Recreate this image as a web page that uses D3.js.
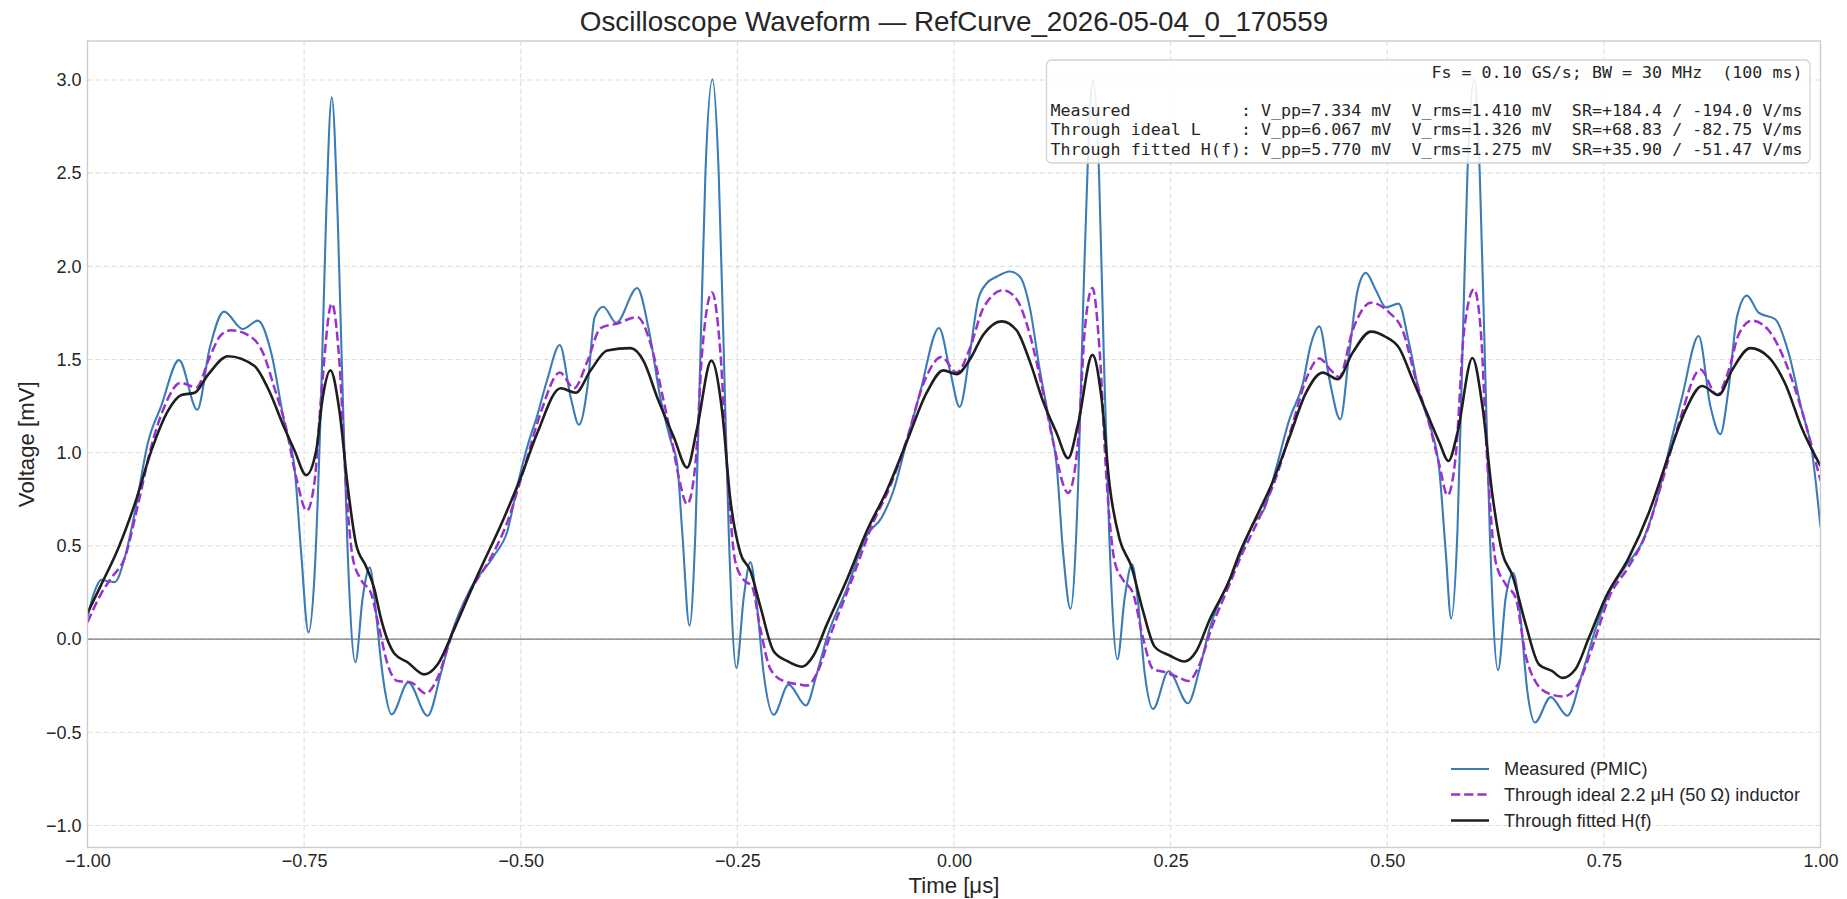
<!DOCTYPE html>
<html><head><meta charset="utf-8">
<script src="https://cdn.jsdelivr.net/npm/d3@7"></script>
<style>
body{margin:0;background:#fff;}
svg{display:block;}
text{font-family:"Liberation Sans",Arial,Helvetica,sans-serif;fill:#262626;}
.mono{font-family:"DejaVu Sans Mono",monospace;white-space:pre;}
</style>
</head><body>
<svg id="chart" width="1847" height="899"></svg>
<script>
// ---------- data ----------
const measT = [-1.000,-0.993,-0.984,-0.9755,-0.9685,-0.957,-0.9455,-0.930,-0.915,-0.8944,-0.8733,-0.859,-0.8425,-0.8207,-0.8034,-0.788,-0.7726,-0.761,-0.7534,-0.745,-0.738,-0.7304,-0.7247,-0.7181,-0.7112,-0.7054,-0.6997,-0.6908,-0.6824,-0.6743,-0.667,-0.6613,-0.6574,-0.649,-0.6298,-0.6075,-0.5922,-0.5806,-0.558,-0.5307,-0.5154,-0.504,-0.4923,-0.481,-0.4693,-0.455,-0.4424,-0.4328,-0.4232,-0.4147,-0.4048,-0.3898,-0.3656,-0.3521,-0.3387,-0.3272,-0.3195,-0.3137,-0.3053,-0.2984,-0.2926,-0.2869,-0.2788,-0.2715,-0.2657,-0.26,-0.2511,-0.2427,-0.235,-0.2273,-0.2197,-0.2081,-0.1909,-0.1709,-0.1582,-0.1467,-0.1237,-0.1006,-0.0834,-0.0699,-0.0546,-0.0392,-0.0173,-0.0046,0.0065,0.0184,0.028,0.0376,0.0492,0.0645,0.0761,0.0876,0.0991,0.1106,0.1183,0.126,0.1344,0.1432,0.149,0.1548,0.1605,0.1674,0.1728,0.179,0.1886,0.197,0.2055,0.2124,0.2201,0.2297,0.2477,0.27,0.2834,0.2949,0.318,0.3295,0.3448,0.3583,0.3717,0.3871,0.4025,0.412,0.4217,0.4332,0.4458,0.4562,0.4658,0.4754,0.4869,0.4985,0.513,0.5253,0.5369,0.5503,0.5599,0.5676,0.5737,0.581,0.5868,0.5925,0.6002,0.6068,0.6125,0.6183,0.6279,0.6367,0.6455,0.654,0.6617,0.6705,0.6886,0.7078,0.725,0.7404,0.7558,0.775,0.7942,0.8095,0.8249,0.8402,0.8594,0.8729,0.8844,0.894,0.9036,0.915,0.9285,0.9478,0.9631,0.9785,0.99,1.0];
const measV = [0.12,0.24,0.318,0.31,0.306,0.437,0.677,1.059,1.25,1.497,1.231,1.561,1.757,1.664,1.709,1.537,1.155,0.916,0.461,0.036,0.342,1.298,2.254,2.907,2.254,1.298,0.461,-0.124,0.222,0.385,0.14,-0.12,-0.256,-0.404,-0.232,-0.411,-0.184,0.019,0.27,0.449,0.58,0.82,1.035,1.2,1.394,1.578,1.298,1.15,1.346,1.728,1.783,1.697,1.884,1.657,1.29,1.07,0.94,0.58,0.072,0.58,1.537,2.493,3.003,2.493,1.537,0.58,-0.155,0.222,0.414,0.175,-0.184,-0.406,-0.244,-0.356,-0.184,0.007,0.27,0.557,0.653,0.796,1.059,1.322,1.669,1.44,1.246,1.537,1.824,1.908,1.944,1.972,1.944,1.776,1.441,1.155,0.94,0.461,0.163,0.82,1.776,2.613,3.0,2.493,1.537,0.58,-0.108,0.222,0.402,0.198,-0.184,-0.375,-0.172,-0.344,-0.16,0.055,0.318,0.44,0.617,0.70,0.916,1.179,1.37,1.585,1.678,1.394,1.179,1.537,1.872,1.965,1.872,1.78,1.80,1.585,1.322,1.131,0.916,0.461,0.11,0.58,1.537,2.493,3.003,2.493,1.537,0.58,-0.167,0.222,0.354,0.103,-0.28,-0.447,-0.311,-0.411,-0.184,0.055,0.246,0.39,0.521,0.724,1.011,1.298,1.626,1.25,1.10,1.346,1.728,1.843,1.752,1.716,1.537,1.226,1.011,0.6];

const idealT = [-1.0,-0.984,-0.9723,-0.957,-0.9416,-0.9263,-0.911,-0.8925,-0.8744,-0.859,-0.8456,-0.8341,-0.8111,-0.7976,-0.7842,-0.7707,-0.7592,-0.7469,-0.738,-0.7304,-0.7181,-0.7093,-0.7016,-0.6939,-0.6843,-0.6728,-0.6632,-0.6536,-0.6421,-0.6267,-0.6095,-0.596,-0.5806,-0.558,-0.5345,-0.5154,-0.4962,-0.477,-0.455,-0.4385,-0.4232,-0.4078,-0.3886,-0.3656,-0.3502,-0.3349,-0.3272,-0.3176,-0.308,-0.2984,-0.2907,-0.2792,-0.2696,-0.2619,-0.2523,-0.2427,-0.2331,-0.2235,-0.212,-0.1966,-0.1774,-0.1697,-0.1582,-0.1429,-0.1198,-0.0929,-0.0737,-0.0545,-0.0353,-0.0142,0.0031,0.0184,0.0338,0.0568,0.0722,0.0876,0.1029,0.1144,0.1317,0.1432,0.1509,0.1598,0.1682,0.1759,0.1855,0.1951,0.2066,0.2181,0.2297,0.245,0.2604,0.27,0.2834,0.2969,0.318,0.3295,0.3525,0.3717,0.3909,0.4063,0.4217,0.4351,0.4447,0.4601,0.4812,0.5023,0.5177,0.533,0.5484,0.5599,0.5695,0.5791,0.5887,0.6002,0.6079,0.6156,0.6252,0.6367,0.6482,0.6598,0.6713,0.6866,0.7039,0.7212,0.7385,0.7558,0.7788,0.798,0.8172,0.8364,0.8614,0.8806,0.894,0.9055,0.9209,0.9401,0.9593,0.9785,1.0];
const idealV = [0.09,0.246,0.33,0.437,0.724,1.035,1.25,1.375,1.351,1.513,1.633,1.657,1.621,1.537,1.346,1.131,0.868,0.689,0.844,1.298,1.80,1.489,0.82,0.437,0.318,0.246,0.055,-0.136,-0.225,-0.232,-0.292,-0.208,0.007,0.258,0.437,0.629,0.916,1.214,1.43,1.346,1.489,1.669,1.693,1.728,1.585,1.274,1.107,0.868,0.724,0.94,1.537,1.86,1.537,0.916,0.414,0.318,0.282,0.055,-0.16,-0.225,-0.244,-0.249,-0.184,0.019,0.294,0.629,0.82,1.071,1.37,1.513,1.43,1.561,1.776,1.872,1.824,1.633,1.322,1.059,0.784,1.059,1.657,1.884,1.537,0.868,0.414,0.318,0.246,0.007,-0.16,-0.179,-0.208,-0.225,-0.136,0.055,0.294,0.426,0.653,0.868,1.155,1.394,1.506,1.442,1.406,1.657,1.805,1.752,1.657,1.394,1.155,0.94,0.772,0.987,1.657,1.877,1.657,0.94,0.414,0.294,0.222,-0.088,-0.23,-0.292,-0.308,-0.232,-0.017,0.222,0.39,0.557,0.844,1.155,1.446,1.31,1.442,1.633,1.709,1.657,1.489,1.226,0.85];

const fitT = [-1.0,-0.984,-0.9647,-0.9455,-0.9263,-0.907,-0.8917,-0.8763,-0.861,-0.8379,-0.8072,-0.7918,-0.7726,-0.761,-0.7477,-0.7361,-0.7285,-0.7197,-0.7093,-0.6997,-0.69,-0.6785,-0.669,-0.6613,-0.6459,-0.6306,-0.6114,-0.596,-0.5768,-0.5499,-0.5191,-0.4999,-0.4808,-0.4539,-0.4366,-0.4193,-0.4002,-0.3733,-0.3579,-0.3426,-0.3233,-0.308,-0.2965,-0.28,-0.2677,-0.2581,-0.2465,-0.235,-0.2235,-0.2081,-0.1928,-0.1755,-0.1621,-0.1467,-0.1237,-0.1006,-0.0776,-0.0545,-0.0315,-0.0123,0.0031,0.0184,0.0338,0.0549,0.0722,0.0876,0.1029,0.1183,0.1317,0.1432,0.1598,0.1701,0.1797,0.1913,0.2047,0.2181,0.2316,0.2489,0.2661,0.2796,0.2949,0.318,0.3295,0.3487,0.3679,0.3871,0.4063,0.4255,0.4428,0.4601,0.4812,0.4985,0.5138,0.5292,0.5446,0.5599,0.5707,0.581,0.5983,0.6098,0.6214,0.6329,0.6444,0.6598,0.6751,0.6905,0.702,0.7174,0.7327,0.7519,0.7788,0.8018,0.8249,0.8441,0.8633,0.8825,0.8978,0.919,0.9401,0.9593,0.9785,1.0];
const fitV = [0.139,0.294,0.485,0.724,1.011,1.226,1.31,1.322,1.418,1.518,1.465,1.346,1.131,1.011,0.88,1.011,1.298,1.442,1.226,0.82,0.509,0.39,0.27,0.11,-0.077,-0.124,-0.189,-0.136,0.055,0.342,0.653,0.868,1.107,1.346,1.322,1.442,1.549,1.561,1.489,1.298,1.083,0.92,1.131,1.494,1.226,0.748,0.461,0.366,0.175,-0.065,-0.117,-0.148,-0.088,0.079,0.318,0.58,0.796,1.059,1.322,1.442,1.422,1.501,1.633,1.705,1.657,1.489,1.274,1.107,0.971,1.155,1.525,1.298,0.82,0.533,0.39,0.151,-0.041,-0.088,-0.12,-0.065,0.103,0.318,0.461,0.653,0.844,1.083,1.322,1.43,1.394,1.537,1.65,1.621,1.561,1.394,1.226,1.059,0.956,1.107,1.508,1.25,0.772,0.461,0.342,0.079,-0.136,-0.172,-0.208,-0.16,0.007,0.222,0.437,0.677,0.987,1.226,1.358,1.31,1.442,1.561,1.513,1.37,1.131,0.93];

const xTicks = [-1, -0.75, -0.5, -0.25, 0, 0.25, 0.5, 0.75, 1];
const xTickLabels = ["\u22121.00","\u22120.75","\u22120.50","\u22120.25","0.00","0.25","0.50","0.75","1.00"];
const yTicks = [-1, -0.5, 0, 0.5, 1, 1.5, 2, 2.5, 3];
const yTickLabels = ["\u22121.0","\u22120.5","0.0","0.5","1.0","1.5","2.0","2.5","3.0"];
const seriesNames = ["Measured (PMIC)", "Through ideal 2.2 \u03bcH (50 \u03a9) inductor", "Through fitted H(f)"];
const titleText = "Oscilloscope Waveform \u2014 RefCurve_2026-05-04_0_170559";
const xLabel = "Time [\u03bcs]";
const yLabel = "Voltage [mV]";
const infoLines = [
  "Fs = 0.10 GS/s; BW = 30 MHz  (100 ms)",
  "",
  "Measured           : V_pp=7.334 mV  V_rms=1.410 mV  SR=+184.4 / -194.0 V/ms",
  "Through ideal L    : V_pp=6.067 mV  V_rms=1.326 mV  SR=+68.83 / -82.75 V/ms",
  "Through fitted H(f): V_pp=5.770 mV  V_rms=1.275 mV  SR=+35.90 / -51.47 V/ms"
];

// ---------- layout ----------
const L = 87.5, R = 1820.5, T = 41, B = 847.5;
const svg = d3.select("#chart");
const x = d3.scaleLinear().domain([-1, 1]).range([L, R]);
const y = d3.scaleLinear().domain([-1.118, 3.209]).range([B, T]);

// grid
const g = svg.append("g");
g.selectAll(".gx").data(xTicks.slice(1, -1)).enter().append("line")
  .attr("x1", d => x(d)).attr("x2", d => x(d)).attr("y1", T).attr("y2", B)
  .attr("stroke", "#dedede").attr("stroke-width", 1.1).attr("stroke-dasharray", "5,3");
g.selectAll(".gy").data(yTicks).enter().append("line")
  .attr("x1", L).attr("x2", R).attr("y1", d => y(d)).attr("y2", d => y(d))
  .attr("stroke", "#dedede").attr("stroke-width", 1.1).attr("stroke-dasharray", "5,3");

// zero line
svg.append("line").attr("x1", L).attr("x2", R).attr("y1", y(0)).attr("y2", y(0))
  .attr("stroke", "#7a7a7a").attr("stroke-width", 1.2);

// clip
svg.append("clipPath").attr("id", "clip").append("rect")
  .attr("x", L).attr("y", T).attr("width", R - L).attr("height", B - T);

const line = d3.line().x(d => x(d[0])).y(d => y(d[1])).curve(d3.curveMonotoneX);
const series = [
  {t: measT, v: measV, color: "#3a7cb6", w: 2.1, dash: null},
  {t: idealT, v: idealV, color: "#9b30d0", w: 2.5, dash: "9.2,4"},
  {t: fitT, v: fitV, color: "#1e1e1e", w: 2.6, dash: null}
];
const pg = svg.append("g").attr("clip-path", "url(#clip)");
series.forEach(s => {
  const pts = s.t.map((t, i) => [t, s.v[i]]);
  pg.append("path").attr("d", line(pts)).attr("fill", "none")
    .attr("stroke", s.color).attr("stroke-width", s.w)
    .attr("stroke-dasharray", s.dash).attr("stroke-linejoin", "round");
});

// frame
svg.append("rect").attr("x", L).attr("y", T).attr("width", R - L).attr("height", B - T)
  .attr("fill", "none").attr("stroke", "#cccccc").attr("stroke-width", 1.4);

// axes (labels only, no tick marks)
const xAxis = d3.axisBottom(x).tickValues(xTicks).tickFormat((d, i) => xTickLabels[i]).tickSize(0).tickPadding(7);
const xa = svg.append("g").attr("transform", `translate(0,${B})`).call(xAxis);
const yAxis = d3.axisLeft(y).tickValues(yTicks).tickFormat((d, i) => yTickLabels[i]).tickSize(0).tickPadding(6);
const ya = svg.append("g").attr("transform", `translate(${L},0)`).call(yAxis);
[xa, ya].forEach(a => {
  a.select(".domain").remove();
  a.selectAll("text").attr("font-family", "Liberation Sans, Arial, sans-serif")
    .attr("font-size", 18).attr("fill", "#262626");
});

// title and axis labels
svg.append("text").attr("x", (L + R) / 2).attr("y", 21).attr("text-anchor", "middle")
  .attr("dominant-baseline", "central").attr("font-size", 27.8).text(titleText);
svg.append("text").attr("x", (L + R) / 2).attr("y", 885).attr("text-anchor", "middle")
  .attr("dominant-baseline", "central").attr("font-size", 22.2).text(xLabel);
svg.append("text").attr("transform", `translate(26,${(T + B) / 2}) rotate(-90)`)
  .attr("text-anchor", "middle").attr("dominant-baseline", "central")
  .attr("font-size", 22.2).text(yLabel);

// info box
const bx = 1046.5, by = 60, bw = 1810 - 1046.5, bh = 163 - 60;
svg.append("rect").attr("x", bx).attr("y", by).attr("width", bw).attr("height", bh)
  .attr("rx", 5).attr("ry", 5).attr("fill", "#ffffff").attr("fill-opacity", 0.88)
  .attr("stroke", "#d4d4d4").attr("stroke-width", 1.3);
infoLines.forEach((s, i) => {
  if (!s) return;
  svg.append("text").attr("class", "mono").attr("x", 1802.5).attr("y", 72 + i * 19.3)
    .attr("text-anchor", "end").attr("dominant-baseline", "central")
    .attr("font-size", 16.67).attr("fill", "#262626").text(s);
});

// legend
const legY = [769, 794.5, 820.5];
series.forEach((s, i) => {
  svg.append("line").attr("x1", 1451).attr("x2", 1489).attr("y1", legY[i]).attr("y2", legY[i])
    .attr("stroke", s.color).attr("stroke-width", s.w).attr("stroke-dasharray", s.dash);
  svg.append("text").attr("x", 1504).attr("y", legY[i]).attr("dominant-baseline", "central")
    .attr("font-size", 18.2).text(seriesNames[i]);
});
</script>
</body></html>
